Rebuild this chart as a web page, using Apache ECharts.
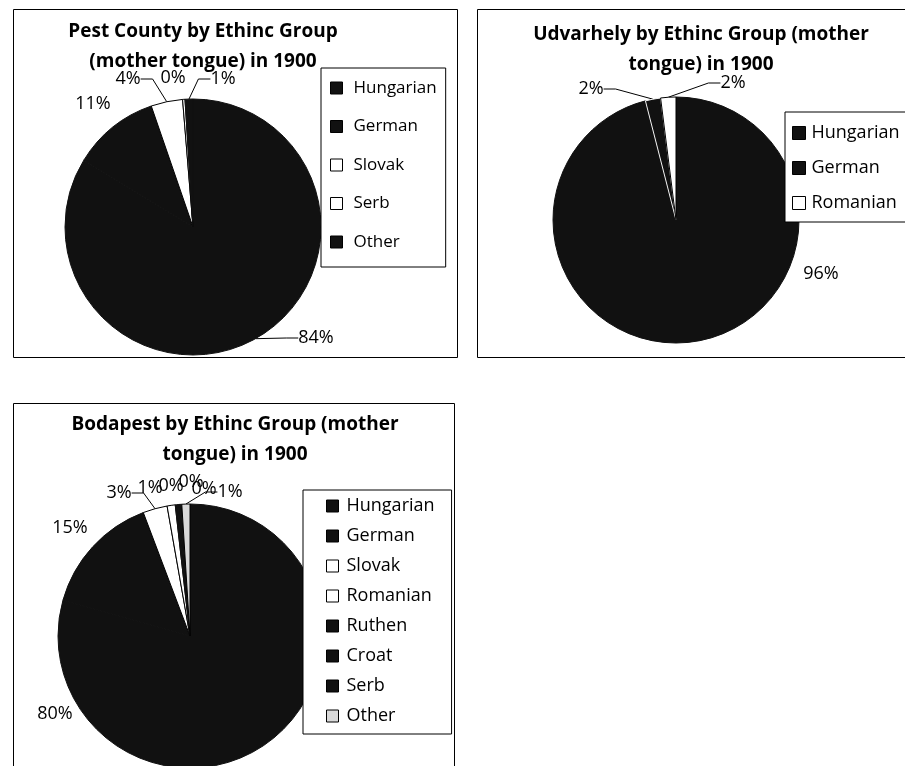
<!DOCTYPE html>
<html>
<head>
<meta charset="utf-8">
<title>Ethnic groups by mother tongue, 1900</title>
<script src="https://cdn.jsdelivr.net/npm/echarts@6/dist/echarts.min.js"></script>
<style>
  html, body { margin: 0; padding: 0; background: #fff; }
  #chart { width: 905px; height: 766px; }
</style>
</head>
<body>
<div id="chart"></div>
<script>
// Pest County
const pestGroups = ['Hungarian', 'German', 'Slovak', 'Serb', 'Other'];
const pestShares = [84, 11, 4, 0.3, 1];

// Udvarhely
const udvarGroups = ['Hungarian', 'German', 'Romanian'];
const udvarShares = [96, 2, 2];

// Budapest
const budaGroups = ['Hungarian', 'German', 'Slovak', 'Romanian', 'Ruthen', 'Croat', 'Serb', 'Other'];
const budaShares = [80, 15, 3, 1, 0.3, 0.3, 0.2, 1];

const FONT = '"Open Sans", Lato, sans-serif';
const DARK = '#111111';
const PALE = '#ffffff';
const GREY = '#d9d9d9';

// slice fills per chart, in the same order as the group lists
const pestFill = [DARK, DARK, PALE, PALE, DARK];
const udvarFill = [DARK, DARK, PALE];
const budaFill = [DARK, DARK, PALE, PALE, DARK, DARK, DARK, GREY];

// slice outlines (dark wedges blend together, pale ones get a black edge)
const pestEdge = [DARK, DARK, '#000', '#000', DARK];
const udvarEdge = [DARK, '#f4f4f4', '#000'];
const budaEdge = [DARK, DARK, '#000', '#000', DARK, DARK, DARK, '#000'];

// which percentage labels get a leader line
const pestLeader = [true, false, true, false, true];
const udvarLeader = [false, true, true];
const budaLeader = [false, false, true, false, false, false, false, true];

// where each percentage label sits (centre of the text, in page pixels)
const pestLabelAt = [[316, 338], [93, 104], [128, 79], [173, 78], [223, 79]];
const udvarLabelAt = [[821, 274], [591, 89], [733, 83]];
const budaLabelAt = [[55, 714], [70, 528], [119, 493], [150, 488], [171, 486], [191, 482], [204, 489], [230, 492]];

function pieData(names, values, fills, edges, leaders) {
  return names.map((n, i) => ({
    name: n,
    value: values[i],
    itemStyle: { color: fills[i], borderColor: edges[i] },
    labelLine: { show: leaders[i] }
  }));
}
function legendData(names, fills) {
  return names.map((n, i) => ({ name: n, itemStyle: { color: fills[i], borderColor: '#000', borderWidth: 1 } }));
}

function pieSeries(name, names, values, fills, edges, leaders, labelAt, center, radius) {
  return {
    type: 'pie',
    name: name,
    center: center,
    radius: radius,
    startAngle: 90,
    clockwise: true,
    percentPrecision: 0,
    avoidLabelOverlap: false,
    silent: true,
    animation: false,
    itemStyle: { borderWidth: 1 },
    label: {
      show: true,
      position: 'outside',
      formatter: '{d}%',
      color: '#000',
      fontFamily: FONT,
      fontSize: 18
    },
    labelLine: { length: 8, length2: 12, lineStyle: { color: '#000', width: 1 } },
    labelLayout: function (p) {
      const at = labelAt[p.dataIndex];
      return { x: at[0], y: at[1], align: 'center', verticalAlign: 'middle' };
    },
    data: pieData(names, values, fills, edges, leaders)
  };
}

function legend(names, fills, opt) {
  return {
    orient: 'vertical',
    left: opt.left,
    top: opt.top,
    icon: 'rect',
    itemWidth: opt.icon,
    itemHeight: opt.icon,
    itemGap: opt.gap,
    selectedMode: false,
    backgroundColor: '#fff',
    borderColor: '#000',
    borderWidth: 1,
    padding: opt.padding,
    z: 10,
    textStyle: {
      fontFamily: FONT, fontSize: opt.fontSize, color: '#000', lineHeight: 20,
      padding: [0, 0, 0, opt.textGap]
    },
    data: legendData(names, fills)
  };
}

function titleBlock(text, x, y) {
  return {
    text: text,
    left: x,
    top: y,
    textAlign: 'center',
    textStyle: { fontFamily: FONT, fontWeight: 'bold', fontSize: 19, color: '#000', lineHeight: 30 }
  };
}

const chart = echarts.init(document.getElementById('chart'), null, { renderer: 'canvas' });

chart.setOption({
  backgroundColor: '#fff',
  animation: false,
  title: [
    titleBlock('Pest County by Ethinc Group\n(mother tongue) in 1900', 198, 12),
    titleBlock('Udvarhely by Ethinc Group (mother\ntongue) in 1900', 696, 15),
    titleBlock('Bodapest by Ethinc Group (mother\ntongue) in 1900', 230, 405)
  ],
  legend: [
    legend(pestGroups, pestFill, { left: 321, top: 68, icon: 12, gap: 18.5, fontSize: 17, textGap: 6, padding: [10, 9, 15, 9] }),
    legend(udvarGroups, udvarFill, { left: 785, top: 112, icon: 13, gap: 15, fontSize: 18, textGap: 1, padding: [11, 30, 9, 7] }),
    legend(budaGroups, budaFill, { left: 303, top: 490, icon: 12, gap: 10, fontSize: 18, textGap: 3, padding: [6, 17, 8, 23] })
  ],
  graphic: [
    { type: 'rect', shape: { x: 13.5, y: 9.5, width: 444, height: 348 }, style: { fill: null, stroke: '#000', lineWidth: 1 }, z: 0 },
    { type: 'rect', shape: { x: 477.5, y: 9.5, width: 440, height: 348 }, style: { fill: null, stroke: '#000', lineWidth: 1 }, z: 0 },
    { type: 'rect', shape: { x: 13.5, y: 403.5, width: 441, height: 380 }, style: { fill: null, stroke: '#000', lineWidth: 1 }, z: 0 }
  ],
  series: [
    pieSeries('Pest County', pestGroups, pestShares, pestFill, pestEdge, pestLeader, pestLabelAt, [193, 227], 128),
    pieSeries('Udvarhely', udvarGroups, udvarShares, udvarFill, udvarEdge, udvarLeader, udvarLabelAt, [676, 220], 123),
    pieSeries('Budapest', budaGroups, budaShares, budaFill, budaEdge, budaLeader, budaLabelAt, [190, 636], 132)
  ]
});
</script>
</body>
</html>
